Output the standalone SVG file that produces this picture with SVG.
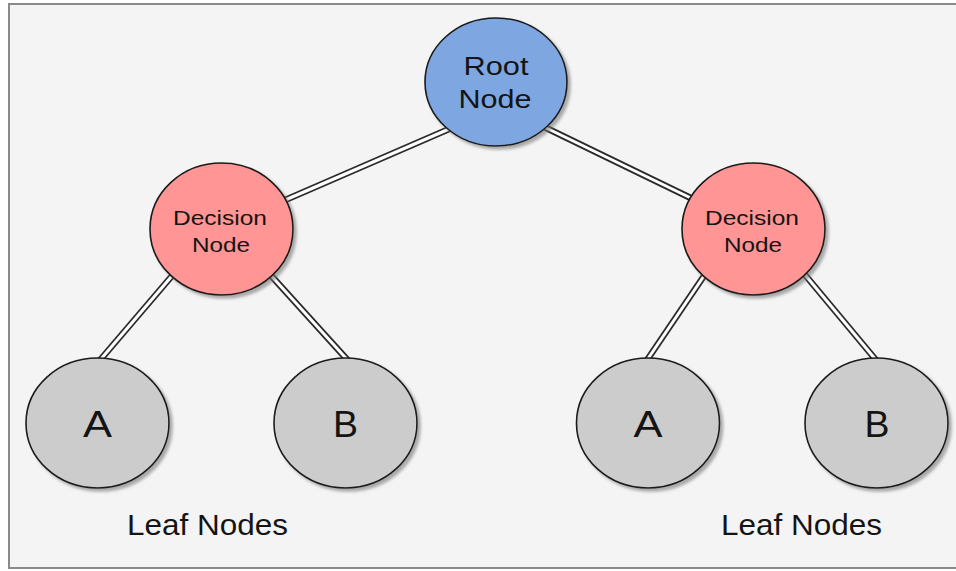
<svg xmlns="http://www.w3.org/2000/svg" width="956" height="571" viewBox="0 0 956 571">
<defs>
<filter id="sh" x="-20%" y="-20%" width="140%" height="140%">
<feDropShadow dx="3" dy="3" stdDeviation="1.5" flood-color="#777" flood-opacity="0.6"/>
</filter>
<style>
.n{stroke:#1a1a1a;stroke-width:1.6;filter:url(#sh)}
.root{fill:#7ea7e2}
.dec{fill:#ff9595}
.leaf{fill:#cccccc}
.t{font-family:"Liberation Sans",Arial,sans-serif;fill:#141414;text-anchor:middle}
.outer{stroke:#2a2a2a;stroke-width:6.5;fill:none}
.inner{stroke:#fff;stroke-width:3;fill:none}
</style>
</defs>
<rect x="9" y="4" width="960" height="564" fill="#f4f4f4" stroke="#8a8a8a" stroke-width="2"/>
<g id="connectors">
<g class="outer">
<line x1="456" y1="126" x2="276" y2="204"/>
<line x1="536" y1="123" x2="699" y2="202"/>
<line x1="177" y1="270" x2="95" y2="366"/>
<line x1="266" y1="270" x2="353" y2="366"/>
<line x1="708" y1="270" x2="643" y2="366"/>
<line x1="801" y1="270" x2="881" y2="366"/>
</g>
<g class="inner">
<line x1="456" y1="126" x2="276" y2="204"/>
<line x1="536" y1="123" x2="699" y2="202"/>
<line x1="177" y1="270" x2="95" y2="366"/>
<line x1="266" y1="270" x2="353" y2="366"/>
<line x1="708" y1="270" x2="643" y2="366"/>
<line x1="801" y1="270" x2="881" y2="366"/>
</g>
</g>
<g id="root">
<ellipse class="n root" cx="496" cy="82" rx="71" ry="64"/>
<text class="t" x="496" y="75" font-size="26" textLength="65" lengthAdjust="spacingAndGlyphs">Root</text>
<text class="t" x="495" y="108" font-size="26" textLength="73" lengthAdjust="spacingAndGlyphs">Node</text>
</g>
<g id="decision-left">
<ellipse class="n dec" cx="221.5" cy="229" rx="71.5" ry="66"/>
<text class="t" x="220" y="225" font-size="21" textLength="94" lengthAdjust="spacingAndGlyphs">Decision</text>
<text class="t" x="221" y="252" font-size="21" textLength="58" lengthAdjust="spacingAndGlyphs">Node</text>
</g>
<g id="decision-right">
<ellipse class="n dec" cx="753.5" cy="229" rx="71.5" ry="66"/>
<text class="t" x="752" y="225" font-size="21" textLength="94" lengthAdjust="spacingAndGlyphs">Decision</text>
<text class="t" x="753" y="252" font-size="21" textLength="58" lengthAdjust="spacingAndGlyphs">Node</text>
</g>
<g id="leaf-a-left">
<ellipse class="n leaf" cx="97.5" cy="423" rx="71.5" ry="65"/>
<text class="t" x="97.5" y="437" font-size="37" textLength="29" lengthAdjust="spacingAndGlyphs">A</text>
</g>
<g id="leaf-b-left">
<ellipse class="n leaf" cx="345.5" cy="423" rx="71.5" ry="65"/>
<text class="t" x="345.5" y="437" font-size="37" textLength="25" lengthAdjust="spacingAndGlyphs">B</text>
</g>
<g id="leaf-a-right">
<ellipse class="n leaf" cx="648" cy="423" rx="71.5" ry="65"/>
<text class="t" x="648" y="437" font-size="37" textLength="29" lengthAdjust="spacingAndGlyphs">A</text>
</g>
<g id="leaf-b-right">
<ellipse class="n leaf" cx="876.5" cy="423" rx="71.5" ry="65"/>
<text class="t" x="877" y="437" font-size="37" textLength="25" lengthAdjust="spacingAndGlyphs">B</text>
</g>
<g id="labels">
<text class="t" x="207.5" y="535" font-size="30" textLength="161" lengthAdjust="spacingAndGlyphs">Leaf Nodes</text>
<text class="t" x="801.5" y="535" font-size="30" textLength="161" lengthAdjust="spacingAndGlyphs">Leaf Nodes</text>
</g>
</svg>
